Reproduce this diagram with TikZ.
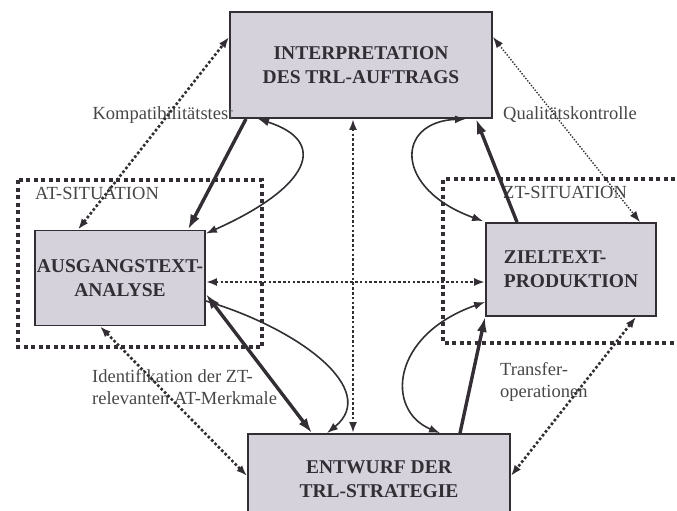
\documentclass[tikz,border=0pt]{standalone}
\usepackage{fontspec}
\setmainfont{Liberation Serif}
\usetikzlibrary{arrows.meta}
\definecolor{boxfill}{RGB}{214,210,220}
\definecolor{ink}{RGB}{50,46,52}

\begin{document}
\begin{tikzpicture}[x=1pt,y=-1pt,>={Latex[length=11pt,width=8pt]}]
    \tikzset{block/.style={draw=ink, line width=1.8pt, fill=boxfill, rectangle, align=center, inner sep=0pt,
        text=ink, font=\fontsize{19.5}{24}\selectfont\bfseries},
      region/.style={draw=ink, line width=4pt, dash pattern=on 4pt off 3.5pt},
      dotline/.style={draw=ink, line width=2.6pt, dash pattern=on 2.6pt off 2.2pt},
      thindot/.style={draw=ink, line width=1.4pt, dash pattern=on 1.4pt off 1.6pt},
      strong/.style={draw=ink, line width=3.4pt, >={Latex[length=15pt,width=10pt]}},
      loop/.style={draw=ink, line width=1.6pt},
      label/.style={inner sep=0pt, align=left, text=black!72, font=\fontsize{18.5}{22}\selectfont},
    }
    \useasboundingbox (0,0) rectangle (677,511);

    % situations
    \draw[region] (18,180) rectangle (262,347);
    \draw[region] (690,179) -- (443,179) -- (443,343) -- (690,343);
    \node[label,anchor=west] at (35,193) (atsit) {AT-SITUATION};
    \node[label,anchor=west] at (503,192) (ztsit) {ZT-SITUATION};

    \node[block,minimum width=262pt,minimum height=106pt] at (361,65) (interp) {INTERPRETATION\\DES TRL-AUFTRAGS};
    \node[block,minimum width=170pt,minimum height=95pt] at (120,278) (ausgang) {AUSGANGSTEXT-\\ANALYSE};
    \node[block,minimum width=170pt,minimum height=93pt,align=left] at (571,269.5) (ziel) {ZIELTEXT-\\PRODUKTION};
    \node[block,minimum width=262pt,minimum height=90pt] at (379,479) (entwurf) {ENTWURF DER\\TRL-STRATEGIE};

    \node[label] at (163,115) (kompat) {Kompatibilitätstest};
    \node[label] at (570,115) (qualit) {Qualitätskontrolle};
    \node[label,anchor=west] at (92,387) (ident) {Identifikation der ZT-\\relevanten AT-Merkmale};
    \node[label,anchor=west] at (500,382) (transfer) {Transfer-\\operationen};

    % upper left
    \draw[dotline,<->] ([xshift=-42pt]ausgang.north) -- ([yshift=28pt]interp.west);
    \draw[strong,->] ([xshift=-115pt]interp.south) -- ([xshift=68pt]ausgang.north);
    \draw[loop,<->] ([xshift=-103pt]interp.south) .. controls +(72,23) and +(103,-46) .. ([yshift=-4pt]ausgang.north east);
    % middle
    \draw[dotline,<->] ([xshift=-8pt]interp.south) -- ([xshift=-26pt]entwurf.north);
    \draw[dotline,<->] ([yshift=-4pt]ausgang.east) -- ([yshift=-12.5pt]ziel.west);
    % upper right
    \draw[loop,<->] ([xshift=105pt]interp.south) .. controls +(-71,3) and +(-89,-32) .. ([xshift=-2pt,yshift=1pt]ziel.north west);
    \draw[strong,->] ([xshift=-54pt]ziel.north) -- ([xshift=115pt]interp.south);
    \draw[thindot,<->] ([yshift=28pt]interp.east) -- ([xshift=69pt]ziel.north);
    % lower left
    \draw[strong,<->] ([yshift=-16pt]ausgang.east) -- ([xshift=-67pt]entwurf.north);
    \draw[loop,->] ([yshift=-23pt]ausgang.east) .. controls +(94,28) and +(53,-43) .. ([xshift=-52pt]entwurf.north);
    \draw[dotline,<->] ([xshift=-20pt]ausgang.south) -- ([yshift=3pt]entwurf.west);
    % lower right
    \draw[loop,<->] ([yshift=-32.5pt]ziel.west) .. controls +(-94,33) and +(-55,-23) .. ([xshift=61pt]entwurf.north);
    \draw[strong,->] ([xshift=81pt]entwurf.north) -- (ziel.south west);
    \draw[dotline,<->] ([xshift=65pt]ziel.south) -- ([yshift=3pt]entwurf.east);
\end{tikzpicture}
\end{document}
